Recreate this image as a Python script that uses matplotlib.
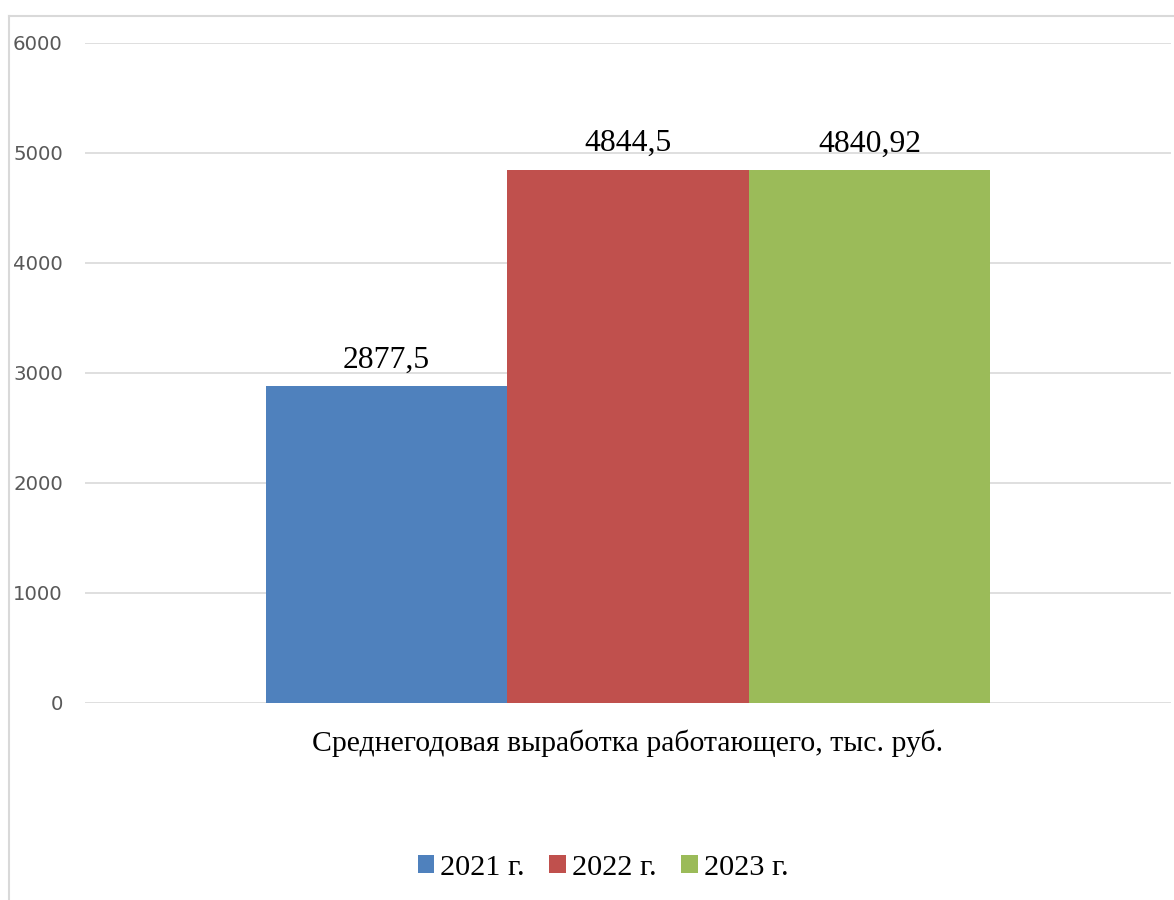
import matplotlib.pyplot as plt
from matplotlib.patches import Patch
from matplotlib.lines import Line2D

category = "Среднегодовая выработка работающего, тыс. руб."
series = ["2021 г.", "2022 г.", "2023 г."]
values = [2877.5, 4844.5, 4840.92]
value_labels = ["2877,5", "4844,5", "4840,92"]
colors = ["#4f81bd", "#c0504d", "#9bbb59"]

W, H = 1174, 900
fig = plt.figure(figsize=(W / 100, H / 100), dpi=100)

# chart border (left and top visible)
border = "#d9d9d9"
fig.add_artist(Line2D([9 / W, 9 / W], [0, (H - 16) / H], color=border, lw=1.5, transform=fig.transFigure))
fig.add_artist(Line2D([9 / W, 1], [(H - 16) / H, (H - 16) / H], color=border, lw=1.5, transform=fig.transFigure))

ax = fig.add_axes([85 / W, (H - 703) / H, (1171 - 85) / W, (703 - 43) / H])

bw = 0.667 / len(series)
for i, (v, lab, c) in enumerate(zip(values, value_labels, colors)):
    x = (i - 1) * bw
    ax.bar(x, v, width=bw, color=c, zorder=3)
    ax.text(x, v + 110, lab, ha="center", va="bottom", fontsize=22.8,
            family="Liberation Serif", color="black")

ax.set_xlim(-0.5, 0.5)
ax.set_ylim(0, 6000)
ax.set_yticks(range(0, 6001, 1000))
ax.yaxis.grid(True, color=border, lw=1.2, zorder=0)
for s in ax.spines.values():
    s.set_visible(False)
ax.tick_params(axis="y", length=0, pad=16, labelsize=14.2, labelcolor="#595959")
ax.set_xticks([0])
ax.set_xticklabels([category], family="Liberation Serif", fontsize=21.4)
ax.tick_params(axis="x", length=0, pad=19)

handles = [Patch(facecolor=c, label=s) for c, s in zip(colors, series)]
fig.legend(handles=handles, loc="center", bbox_to_anchor=(603 / W, (H - 868) / H),
           ncol=3, frameon=False, prop={"family": "Liberation Serif", "size": 21.8},
           handlelength=0.55, handleheight=0.55, handletextpad=0.2, columnspacing=0.8)

plt.savefig("out.png", dpi=100)
plt.close()
